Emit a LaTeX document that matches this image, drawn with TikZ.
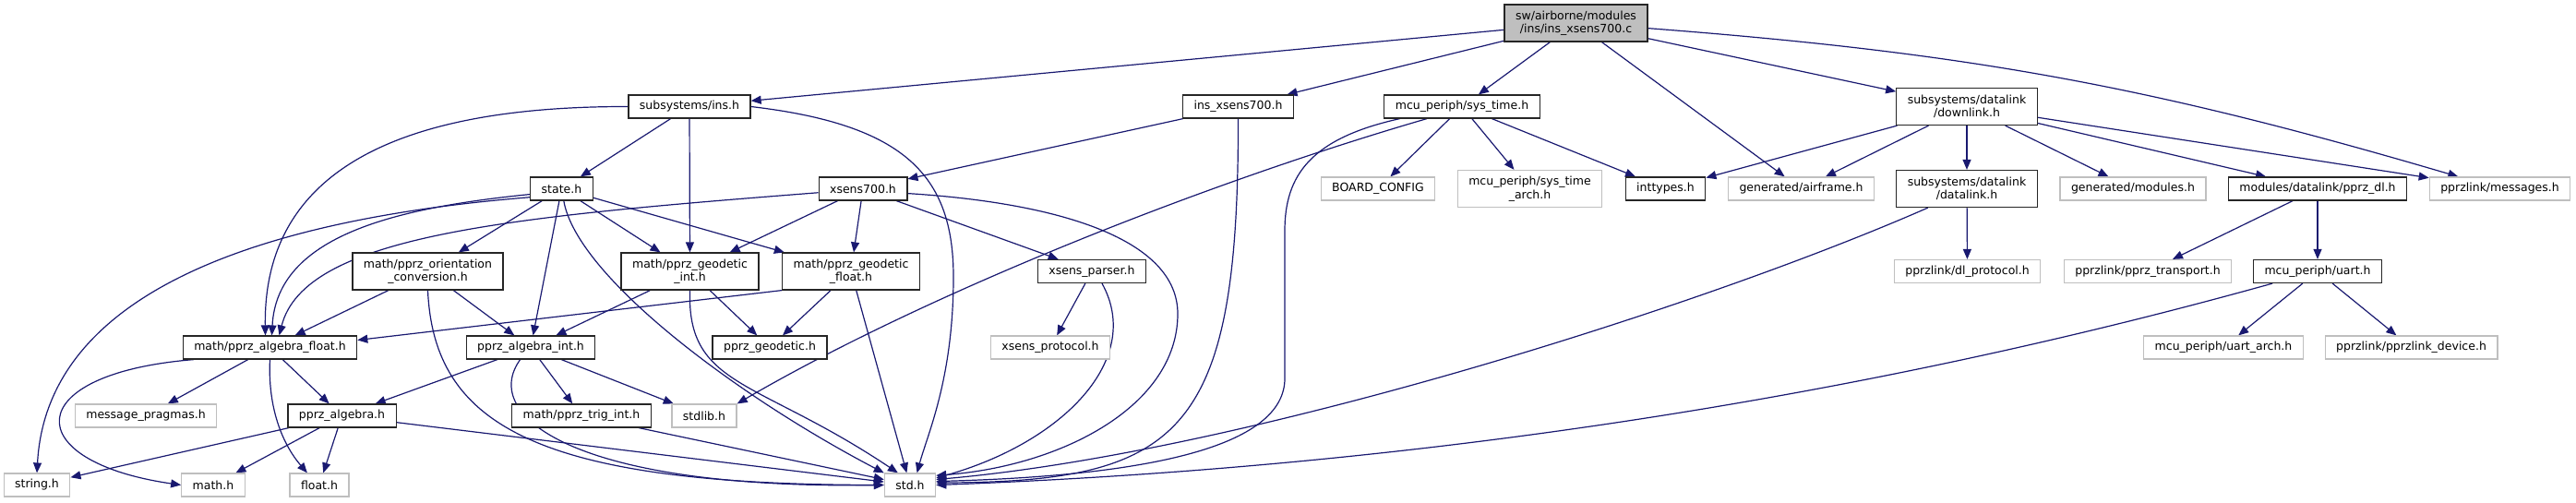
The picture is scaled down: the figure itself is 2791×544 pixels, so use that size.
\documentclass[tikz,border=0pt]{standalone}
\usepackage{fontspec}
\setmainfont{DejaVu Sans}
\usetikzlibrary{arrows.meta,backgrounds}
\definecolor{dxedge}{HTML}{191970}
\definecolor{dxink}{HTML}{262626}
\definecolor{dxgrey}{HTML}{BFBFBF}

\begin{document}
\begin{tikzpicture}[x=1pt, y=-1pt, font=\fontsize{12.5}{14.5}\selectfont, >={Triangle[length=11pt,width=9pt]},
  f/.style={draw=dxink, line width=1.2pt, fill=white, inner xsep=12pt, inner ysep=2pt, minimum height=25pt, align=center},
  ext/.style={f, draw=dxgrey},
  root/.style={f, fill=dxgrey},
  two/.style={minimum height=40pt},
  dep/.style={->, dxedge, line width=1.2pt}]
  \useasboundingbox (0,0) rectangle (2791,544);
  % ---- files ----
  \node[root, two] (top) at (1707.5,25) {sw/airborne/modules\\/ins/ins\_xsens700.c};
  \node[f] (ins) at (747,115.5) {subsystems/ins.h};
  \node[f] (insx) at (1341.5,115.5) {ins\_xsens700.h};
  \node[f] (systime) at (1584,115.5) {mcu\_periph/sys\_time.h};
  \node[f, two] (downlink) at (2131,115.5) {subsystems/datalink\\/downlink.h};
  \node[f] (state) at (608.5,204.5) {state.h};
  \node[f] (xsens) at (935,204.5) {xsens700.h};
  \node[ext] (board) at (1493,204.5) {BOARD\_CONFIG};
  \node[ext, two] (tarch) at (1657.5,204.5) {mcu\_periph/sys\_time\\\_arch.h};
  \node[f] (inttypes) at (1804.5,204.5) {inttypes.h};
  \node[ext] (airframe) at (1951.5,204.5) {generated/airframe.h};
  \node[f, two] (datalink) at (2131,204.5) {subsystems/datalink\\/datalink.h};
  \node[ext] (modules) at (2311,204.5) {generated/modules.h};
  \node[f] (pprzdl) at (2511,204.5) {modules/datalink/pprz\_dl.h};
  \node[ext] (messages) at (2708.5,204.5) {pprzlink/messages.h};
  \node[f, two] (orient) at (463.5,294) {math/pprz\_orientation\\\_conversion.h};
  \node[f, two] (geoint) at (747.5,294) {math/pprz\_geodetic\\\_int.h};
  \node[f, two] (geofloat) at (922,294) {math/pprz\_geodetic\\\_float.h};
  \node[f] (parser) at (1183,294) {xsens\_parser.h};
  \node[ext] (dlproto) at (2131.5,294) {pprzlink/dl\_protocol.h};
  \node[ext] (transport) at (2327,294) {pprzlink/pprz\_transport.h};
  \node[f] (uart) at (2511,294) {mcu\_periph/uart.h};
  \node[f] (algfloat) at (292.5,376.5) {math/pprz\_algebra\_float.h};
  \node[f] (algint) at (575,376.5) {pprz\_algebra\_int.h};
  \node[f] (geodetic) at (834,376.5) {pprz\_geodetic.h};
  \node[ext] (protocol) at (1138,376.5) {xsens\_protocol.h};
  \node[ext] (uartarch) at (2409,376.5) {mcu\_periph/uart\_arch.h};
  \node[ext] (device) at (2612.5,376.5) {pprzlink/pprzlink\_device.h};
  \node[ext] (pragmas) at (158,450.5) {message\_pragmas.h};
  \node[f] (algebra) at (370.5,450.5) {pprz\_algebra.h};
  \node[f] (trig) at (630,450.5) {math/pprz\_trig\_int.h};
  \node[ext] (stdlib) at (763,450.5) {stdlib.h};
  \node[ext] (string) at (40,525.5) {string.h};
  \node[ext] (math) at (231,525.5) {math.h};
  \node[ext] (float) at (346,525.5) {float.h};
  \node[ext] (std) at (986,525.5) {std.h};
  % ---- includes ----
  \begin{scope}[on background layer]
    \foreach \a/\b in {top/ins, top/insx, top/systime, top/airframe, top/downlink, ins/state, ins/geoint, insx/xsens,
      systime/board, systime/tarch, systime/inttypes, downlink/inttypes, downlink/airframe, downlink/datalink,
      downlink/modules, downlink/pprzdl, downlink/messages, datalink/dlproto, pprzdl/transport, pprzdl/uart,
      uart/uartarch, uart/device, state/orient, state/algint, state/geoint, state/geofloat, xsens/geoint,
      xsens/geofloat, xsens/parser, orient/algfloat, orient/algint, geoint/algint, geoint/geodetic,
      geofloat/geodetic, geofloat/std, parser/protocol, algfloat/pragmas, algfloat/algebra, algint/algebra,
      algint/trig, algint/stdlib, algebra/string, algebra/math, algebra/float, algebra/std, trig/std} { \draw[dep] (\a) -- (\b); }
    \draw[dep] (top) to[bend left=6] (messages);
    \draw[dep] (ins.west) .. controls (450,115) and (285,175) .. ([xshift=-5pt]algfloat.north);
    \draw[dep] (ins.east) .. controls (980,135) and (1033,190) .. (1033,300) .. controls (1033,410) and (1005,470) .. (std.60);
    \draw[dep] (insx.south) .. controls (1342,470) and (1280,522) .. (std.5);
    \draw[dep] (systime.191) .. controls (1420,150) and (1392,190) .. (1392,250) -- (1392,410) .. controls (1392,480) and (1260,515) .. (std.8);
    \draw[dep] (systime.199) .. controls (1300,200) and (1000,320) .. (stdlib.north east);
    \draw[dep] (datalink.206) .. controls (1850,330) and (1350,490) .. (std.12);
    \draw[dep] (uart.195) .. controls (2200,380) and (1700,500) .. (std.east);
    \draw[dep] (state.190) .. controls (430,225) and (300,255) .. ([xshift=2pt]algfloat.north);
    \draw[dep] (state.195) .. controls (250,240) and (50,330) .. (string.north);
    \draw[dep] (state.280) .. controls (625,300) and (800,430) .. (std.north west);
    \draw[dep] (xsens.185) .. controls (550,235) and (330,255) .. ([xshift=10pt]algfloat.north);
    \draw[dep] (xsens.354) .. controls (1150,220) and (1276,260) .. (1276,340) .. controls (1276,440) and (1150,505) .. (std.20);
    \draw[dep] (orient.south) .. controls (470,460) and (580,525) .. (std.west);
    \draw[dep] (geoint.south) .. controls (744,420) and (820,410) .. (std.135);
    \draw[dep] (geofloat.south west) -- ([yshift=8pt]algfloat.east);
    \draw[dep] (parser.310) .. controls (1240,390) and (1150,480) .. (std.15);
    \draw[dep] (algfloat.south) .. controls (290,440) and (305,480) .. (float.135);
    \draw[dep] (algfloat.189) .. controls (20,405) and (20,500) .. (math.west);
    \draw[dep] (algint.229) .. controls (520,450) and (620,530) .. (std.west);
  \end{scope}
\end{tikzpicture}
\end{document}
